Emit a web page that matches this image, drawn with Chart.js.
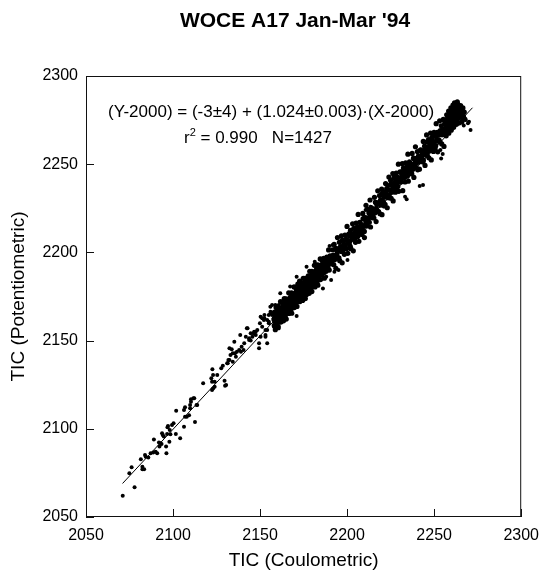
<!DOCTYPE html>
<html><head><meta charset="utf-8">
<script src="https://cdn.jsdelivr.net/npm/chart.js@4/dist/chart.umd.min.js"></script>
<style>html,body{margin:0;padding:0;background:#fff;}canvas{display:block;}</style>
</head><body>
<canvas id="c" width="548" height="575"></canvas>
<script>
const titleText = "WOCE A17 Jan-Mar '94";
const xTitle = "TIC (Coulometric)";
const yTitle = "TIC (Potentiometric)";
const eqLine1 = "(Y-2000) = (-3\u00B14) + (1.024\u00B10.003)\u00B7(X-2000)";
const eqR = "r";
const eqSup = "2";
const eqRest = " = 0.990   N=1427";
const tickValues = [2050, 2100, 2150, 2200, 2250, 2300];
const fitLine = [[2071, 2069], [2272, 2282]];

// sparse lower part (X < 2150)
const lowPts = [[2071.1,2062.1],[2077.9,2066.8],[2074.9,2074.8],[2076.2,2078.2],[2081.5,2082.7],[2082.4,2078.5],[2083.4,2077.0],[2084.3,2084.2],[2085.8,2083.8],[2089.0,2094.0],[2088.6,2086.5],[2090.9,2086.1],[2092.2,2089.9],[2091.9,2092.2],[2093.4,2091.4],[2094.1,2096.5],[2096.2,2086.1],[2096.0,2089.9],[2096.8,2100.9],[2098.1,2099.3],[2098.5,2096.9],[2096.6,2097.1],[2099.4,2102.2],[2101.6,2097.1],[2101.8,2110.3],[2104.1,2094.6],[2106.3,2101.2],[2106.3,2110.7],[2107.9,2106.9],[2109.2,2107.7],[2109.8,2111.7],[2112.6,2103.8],[2112.2,2117.3],[2113.9,2113.5],[2117.3,2125.8],[2122.0,2128.6],[2122.4,2126.7],[2123.0,2130.5],[2123.9,2123.9],[2122.4,2122.0],[2129.6,2127.3],[2129.9,2124.4],[2128.6,2135.8],[2131.4,2137.1],[2132.4,2139.0],[2134.3,2142.8],[2135.2,2149.4],[2133.7,2145.1],[2136.1,2140.9],[2138.6,2153.2],[2139.0,2143.7],[2140.5,2144.7],[2142.4,2157.0],[2143.7,2151.3],[2144.6,2150.0],[2146.2,2154.1],[2147.5,2155.0],[2149.4,2145.6],
[2082.4,2077.0],[2083.9,2085.1],[2087.1,2086.1],[2090.0,2087.0],[2092.8,2091.8],[2093.7,2097.5],[2094.7,2095.6],[2097.1,2101.6],[2097.9,2092.7],[2100.3,2103.1],[2106.9,2106.9],[2109.8,2113.5],[2110.3,2116.7],
[2106.9,2112.2],[2110.3,2115.4],[2111.7,2117.3],[2113.5,2113.5],[2123.0,2122.9],[2122.6,2133.7],[2123.9,2126.7],[2125.4,2130.5],[2127.7,2134.3],[2130.5,2124.8],[2131.1,2137.1],[2131.8,2139.0],[2133.0,2141.8],[2132.4,2145.6],[2134.3,2138.0],[2135.6,2142.8],[2136.7,2143.7],[2138.0,2144.7],[2139.4,2146.5],[2140.9,2148.5],[2141.8,2152.2],[2142.8,2157.0],[2143.7,2150.3],[2144.6,2154.1],[2145.6,2152.2],[2146.6,2155.0],[2147.5,2153.2],[2148.4,2156.0],[2149.4,2148.5],[2149.9,2159.8]];

// transition 2150 - 2163
const midPts = [[2150.3,2152.2],[2153.1,2156.0],[2151.2,2157.9],[2153.1,2152.2],[2152.5,2162.6],[2154.1,2161.7],[2155.0,2164.5],[2156.0,2166.4],[2156.9,2170.2],[2158.2,2162.6],[2159.3,2169.2],[2157.8,2158.8],[2151.2,2162.6],[2152.5,2164.5],[2155.0,2160.7],[2156.9,2164.5],[2155.9,2169.2],[2158.8,2170.2],[2159.7,2159.8],[2160.7,2158.3],[2161.6,2176.8],[2163.5,2173.0],[2150.3,2163.5],[2152.2,2161.7],[2153.1,2153.2],[2154.1,2156.0],[2155.0,2159.8],[2156.0,2165.5],[2157.8,2162.6],[2158.8,2166.4],[2159.7,2157.9],[2160.7,2170.2],[2154.1,2148.5]];

// dense core 2158 - 2192 (wide)
const corePts = [[2158.00,2162.0],[2158.20,2158.3],[2158.30,2166.1],[2158.45,2161.3],[2158.70,2164.2],[2158.75,2156.2],[2158.95,2163.7],[2159.05,2160.4],[2159.20,2168.8],[2159.40,2160.0],[2159.50,2162.9],[2159.70,2166.4],[2159.80,2158.7],[2159.95,2164.4],[2160.20,2162.7],[2160.25,2168.7],[2160.45,2157.3],[2160.55,2166.8],[2160.70,2162.8],[2160.90,2164.8],[2161.00,2160.7],[2161.20,2168.5],[2161.30,2164.5],[2161.45,2166.7],[2161.70,2162.9],[2161.75,2172.1],[2161.95,2160.5],[2162.05,2165.8],[2162.20,2168.3],[2162.40,2164.3],[2162.50,2165.3],
[2162.70,2167.0],[2162.80,2163.2],[2162.95,2171.1],[2163.20,2166.3],[2163.25,2169.0],[2163.45,2161.2],[2163.55,2168.6],[2163.70,2165.4],[2163.90,2173.8],[2164.00,2164.9],[2164.20,2167.9],[2164.30,2171.3],[2164.45,2163.7],[2164.70,2169.4],[2164.75,2167.5],[2164.95,2173.7],[2165.05,2162.2],[2165.20,2171.8],[2165.40,2167.8],[2165.50,2169.7],[2165.70,2165.7],[2165.80,2173.4],[2165.95,2169.5],[2166.20,2171.7],[2166.25,2167.8],[2166.45,2177.1],[2166.55,2165.4],[2166.70,2170.7],[2166.90,2173.3],[2167.00,2169.2],[2167.20,2170.3],
[2167.30,2171.2],[2167.45,2174.6],[2167.70,2167.1],[2167.75,2172.7],[2167.95,2170.9],[2168.05,2177.0],[2168.20,2165.5],[2168.40,2175.1],[2168.50,2171.1],[2168.70,2173.1],[2168.80,2169.0],[2168.95,2176.7],[2169.20,2172.9],[2169.25,2175.0],[2169.45,2171.2],[2169.55,2180.4],[2169.70,2168.7],[2169.90,2174.1],[2170.00,2176.5],[2170.20,2172.6],[2170.30,2173.6],[2170.45,2175.2],[2170.70,2171.6],[2170.75,2179.3],[2170.95,2174.6],[2171.05,2177.3],[2171.20,2169.4],[2171.40,2176.9],[2171.50,2173.6],[2171.70,2182.0],[2171.80,2173.2],
[2171.95,2172.3],[2172.20,2180.2],[2172.25,2176.1],[2172.45,2178.3],[2172.55,2174.4],[2172.70,2183.7],[2172.90,2172.1],[2173.00,2177.4],[2173.20,2179.9],[2173.30,2175.8],[2173.45,2176.9],[2173.70,2178.7],[2173.75,2174.8],[2173.95,2182.7],[2174.05,2177.8],[2174.20,2180.6],[2174.40,2172.8],[2174.50,2180.2],[2174.70,2177.0],[2174.80,2185.3],[2174.95,2176.5],[2175.20,2179.6],[2175.25,2182.9],[2175.45,2175.3],[2175.55,2180.9],[2175.70,2179.1],[2175.90,2185.3],[2176.00,2173.8],[2176.20,2183.4],[2176.30,2179.3],[2176.45,2181.3],
[2176.70,2176.1],[2176.75,2181.4],[2176.95,2183.9],[2177.05,2179.8],[2177.20,2180.9],[2177.40,2182.6],[2177.50,2178.8],[2177.70,2186.7],[2177.80,2181.8],[2177.95,2184.6],[2178.20,2176.8],[2178.25,2184.2],[2178.45,2181.0],[2178.55,2189.3],[2178.70,2180.5],[2178.90,2183.5],[2179.00,2186.9],[2179.20,2179.3],[2179.30,2184.9],[2179.45,2183.1],[2179.70,2189.3],[2179.75,2177.8],[2179.95,2187.4],[2180.05,2183.3],[2180.20,2185.3],[2180.40,2181.3],[2180.50,2189.0],[2180.70,2185.1],[2180.80,2187.2],[2180.95,2183.4],[2181.20,2192.7],
[2181.25,2185.5],[2181.45,2188.3],[2181.55,2180.4],[2181.70,2187.8],[2181.90,2184.7],[2182.00,2193.0],[2182.20,2184.2],[2182.30,2187.1],[2182.45,2190.5],[2182.70,2183.0],[2182.75,2188.6],[2182.95,2186.8],[2183.05,2192.9],[2183.20,2181.4],[2183.40,2191.0],[2183.50,2187.0],[2183.70,2189.0],[2183.80,2184.9],[2183.95,2192.6],[2184.20,2188.8],[2184.25,2190.9],[2184.45,2187.1],[2184.55,2196.3],[2184.70,2184.6],[2184.90,2190.0],[2185.00,2192.4],[2185.20,2188.5],[2185.30,2189.5],[2185.45,2191.1],[2185.70,2187.5],[2185.75,2195.2],
[2186.05,2192.1],[2186.25,2190.3],[2186.55,2196.6],[2186.95,2185.4],[2187.15,2195.0],[2187.45,2191.1],[2187.65,2193.2],[2187.95,2189.3],[2188.35,2197.3],[2188.55,2193.4],[2188.85,2195.7],[2189.05,2191.9],[2189.35,2201.4],[2189.75,2190.0],[2189.95,2195.4],[2190.25,2198.0],[2190.45,2194.0],[2190.75,2195.2],[2191.15,2197.2],[2191.35,2193.5],[2191.65,2201.5]];

// dense core, inner part
const coreInner = [[2162.60,2166.5],[2162.85,2164.6],[2163.00,2169.2],[2163.20,2166.1],[2163.50,2168.4],[2163.60,2164.0],[2163.85,2168.3],[2164.00,2166.5],[2164.20,2171.3],[2164.50,2165.7],[2164.60,2168.2],[2164.85,2170.4],[2165.00,2165.7],[2165.20,2169.5],[2165.50,2168.9],[2165.60,2171.6],[2165.85,2165.9],[2166.00,2171.3],[2166.20,2169.0],[2166.50,2170.4],[2166.60,2168.3],[2166.85,2173.5],[2167.00,2169.4],[2167.20,2172.0],[2167.50,2171.2],
[2167.60,2168.5],[2167.85,2172.3],[2168.00,2171.5],[2168.20,2174.3],[2168.50,2168.8],[2168.60,2174.1],[2168.85,2171.8],[2169.00,2173.1],[2169.20,2171.1],[2169.50,2176.3],[2169.60,2172.1],[2169.85,2174.8],[2170.00,2173.8],[2170.20,2174.6],[2170.50,2172.7],[2170.60,2177.3],[2170.85,2174.2],[2171.00,2176.3],[2171.20,2172.0],[2171.50,2176.4],[2171.60,2174.5],[2171.85,2179.4],[2172.00,2173.7],[2172.20,2176.3],[2172.50,2178.5],
[2172.60,2178.0],[2172.85,2173.8],[2173.00,2178.0],[2173.20,2176.2],[2173.50,2181.2],[2173.60,2175.4],[2173.85,2178.0],[2174.00,2180.1],[2174.20,2175.5],[2174.50,2179.3],[2174.60,2178.5],[2174.85,2181.4],[2175.00,2175.6],[2175.20,2181.1],[2175.50,2178.9],[2175.60,2180.1],[2175.85,2178.1],[2176.00,2183.2],[2176.20,2179.1],[2176.50,2181.8],[2176.60,2180.8],[2176.85,2181.6],[2177.00,2179.6],[2177.20,2184.3],[2177.50,2181.3],
[2177.60,2181.1],[2177.85,2182.5],[2178.00,2180.4],[2178.20,2185.5],[2178.50,2181.6],[2178.60,2184.1],[2178.85,2183.2],[2179.00,2183.9],[2179.20,2181.9],[2179.50,2186.7],[2179.60,2183.5],[2179.85,2185.7],[2180.00,2181.3],[2180.20,2185.7],[2180.50,2184.0],[2180.60,2188.7],[2180.85,2183.0],[2181.00,2185.6],[2181.20,2187.7],[2181.50,2183.2],[2181.60,2186.8],[2181.85,2186.2],[2182.00,2189.0],[2182.20,2183.3],[2182.50,2188.8],
[2182.60,2184.9],[2182.85,2187.6],[2183.00,2189.6],[2183.20,2185.0],[2183.50,2188.9],[2183.60,2188.1],[2183.85,2190.9],[2184.00,2185.2],[2184.20,2190.6],[2184.50,2188.4],[2184.60,2189.6],[2184.85,2187.7],[2185.00,2192.7],[2185.20,2188.7],[2185.50,2191.4],[2185.60,2190.4],[2185.85,2191.1],[2186.00,2189.1],[2186.20,2193.8],[2186.50,2190.8],[2186.60,2192.8],[2186.85,2188.6],[2187.00,2192.9],[2187.20,2191.1],[2187.50,2196.0],[2187.80,2191.8],[2188.10,2194.3],[2188.40,2191.2],[2188.70,2194.3]];

// upper band 2192 - 2256 (wide)
const bandPts = [[2192.00,2198.5],[2192.35,2193.0],[2192.55,2204.6],[2193.00,2197.4],[2193.30,2201.9],[2193.55,2191.0],[2193.95,2201.3],[2194.25,2196.9],[2194.45,2208.4],[2194.85,2196.7],[2195.20,2201.1],[2195.55,2205.7],[2195.75,2195.3],[2196.20,2203.3],[2196.50,2200.6],[2196.75,2209.4],[2197.15,2194.1],[2197.45,2206.9],[2197.65,2201.3],[2198.05,2204.6],[2198.40,2198.9],[2198.75,2209.8],[2198.95,2204.3],[2199.40,2207.6],[2199.70,2202.2],[2199.95,2214.7],[2200.35,2199.5],[2200.65,2206.6],[2200.85,2210.2],[2201.25,2204.8],[2201.60,2206.4],
[2201.95,2212.5],[2202.15,2202.1],[2202.60,2210.1],[2202.90,2207.4],[2203.15,2216.2],[2203.55,2200.9],[2203.85,2213.7],[2204.05,2208.0],[2204.45,2211.4],[2204.80,2205.7],[2205.15,2216.6],[2205.35,2211.1],[2205.80,2214.4],[2206.10,2209.0],[2206.35,2221.5],[2206.75,2206.3],[2207.05,2213.4],[2207.25,2217.0],[2207.65,2211.6],[2208.00,2213.2],[2208.35,2215.8],[2208.55,2210.2],[2209.00,2222.1],[2209.30,2214.7],[2209.55,2219.2],[2209.95,2208.4],[2210.25,2219.6],[2210.45,2215.0],[2210.85,2226.7],[2211.20,2215.0],[2211.55,2219.4],
[2211.75,2224.6],[2212.20,2219.4],[2212.50,2222.5],[2212.75,2217.1],[2213.15,2229.7],[2213.45,2214.4],[2213.65,2221.4],[2214.05,2225.2],[2214.40,2219.7],[2214.75,2221.4],[2214.95,2223.8],[2215.40,2219.5],[2215.70,2231.2],[2215.95,2223.8],[2216.35,2228.4],[2216.65,2217.5],[2216.85,2227.6],[2217.25,2223.2],[2217.60,2234.9],[2217.95,2223.2],[2218.15,2227.4],[2218.60,2232.2],[2218.90,2221.9],[2219.15,2229.6],[2219.55,2227.1],[2219.85,2235.9],[2220.05,2221.4],[2220.45,2234.3],[2220.80,2228.8],[2221.15,2232.1],[2221.35,2226.3],
[2221.80,2227.3],[2222.10,2239.0],[2222.35,2231.5],[2222.75,2236.2],[2223.05,2225.3],[2223.25,2235.4],[2223.65,2231.0],[2224.00,2242.7],[2224.35,2231.0],[2224.55,2235.2],[2225.00,2240.9],[2225.30,2230.7],[2225.55,2238.4],[2225.95,2235.9],[2226.25,2244.7],[2226.45,2229.2],[2226.85,2242.1],[2227.20,2236.6],[2227.55,2239.8],[2227.75,2234.1],[2228.20,2245.0],[2228.50,2239.7],[2228.75,2242.7],[2229.15,2237.4],[2229.45,2250.0],[2229.65,2234.6],[2230.05,2241.8],[2230.40,2245.6],[2230.75,2240.0],[2230.95,2241.6],[2231.40,2244.2],
[2231.70,2250.4],[2231.95,2235.0],[2232.35,2247.9],[2232.65,2242.4],[2232.85,2245.5],[2233.25,2239.9],[2233.60,2250.8],[2233.95,2245.4],[2234.15,2248.4],[2234.60,2243.2],[2234.90,2255.7],[2235.15,2240.4],[2235.55,2247.6],[2235.85,2251.3],[2236.05,2245.7],[2236.45,2247.4],[2236.80,2250.0],[2237.15,2244.5],[2237.35,2256.1],[2237.80,2248.9],[2238.10,2253.4],[2238.35,2242.5],[2238.75,2252.8],[2239.05,2248.3],[2239.25,2259.9],[2239.65,2248.2],[2240.00,2252.5],[2240.35,2257.2],[2240.55,2246.8],[2241.00,2254.8],[2241.30,2252.1],
[2241.55,2247.2],[2241.95,2254.4],[2242.25,2258.1],[2242.45,2252.4],[2242.85,2254.2],[2243.20,2256.7],[2243.55,2251.3],[2243.75,2262.9],[2244.20,2255.7],[2244.50,2260.2],[2244.75,2249.3],[2245.15,2259.6],[2245.45,2255.1],[2245.65,2266.6],[2246.05,2254.9],[2246.40,2259.3],[2246.75,2264.0],[2246.95,2253.6],[2247.40,2261.6],[2247.70,2258.9],[2247.95,2267.7],[2248.35,2252.4],[2248.65,2265.2],[2248.85,2259.5],[2249.25,2262.9],[2249.60,2257.2],[2249.95,2268.1],[2250.15,2262.6],[2250.60,2265.9],[2250.90,2260.5],[2251.15,2273.0],
[2251.55,2263.5],[2251.85,2268.0],[2252.05,2257.0],[2252.45,2267.3],[2252.80,2262.9],[2253.15,2274.6],[2253.35,2262.7],[2253.80,2267.2],[2254.10,2271.8],[2254.35,2261.5],[2254.75,2269.4],[2255.05,2266.7],[2255.25,2275.4],[2255.65,2260.1],[2256.00,2273.0],[2256.35,2267.5]];

// upper band, inner part
const bandInner = [[2192.30,2198.2],[2192.80,2195.8],[2193.50,2202.3],[2194.10,2199.0],[2194.90,2202.0],[2195.30,2196.9],[2195.80,2202.3],[2196.50,2200.6],[2197.10,2206.9],[2197.90,2201.7],[2198.30,2204.1],[2198.80,2206.9],[2199.50,2202.2],[2200.10,2206.7],[2200.90,2206.0],[2201.30,2210.7],[2201.80,2203.4],[2202.50,2210.4],[2203.10,2208.0],[2203.90,2210.3],[2204.30,2207.7],[2204.80,2213.5],[2205.50,2211.4],[2206.10,2213.5],[2206.90,2211.5],
[2207.30,2210.5],[2207.80,2214.8],[2208.50,2214.1],[2209.10,2219.0],[2209.90,2211.9],[2210.30,2219.7],[2210.80,2217.2],[2211.50,2219.3],[2212.10,2217.0],[2212.90,2223.1],[2213.30,2220.6],[2213.80,2222.7],[2214.50,2220.5],[2215.10,2224.4],[2215.90,2222.3],[2216.30,2228.4],[2216.80,2225.1],[2217.50,2228.0],[2218.10,2223.0],[2218.90,2228.8],[2219.30,2226.8],[2219.80,2232.9],[2220.50,2228.7],[2221.10,2231.3],[2221.90,2234.4],
[2222.30,2233.4],[2222.80,2231.5],[2223.50,2237.9],[2224.10,2232.5],[2224.90,2235.3],[2225.30,2239.0],[2225.80,2234.1],[2226.50,2238.6],[2227.10,2237.8],[2227.90,2242.9],[2228.30,2235.4],[2228.80,2242.3],[2229.50,2240.0],[2230.10,2242.1],[2230.90,2239.9],[2231.30,2245.6],[2231.80,2243.3],[2232.50,2245.5],[2233.10,2243.2],[2233.90,2246.3],[2234.30,2243.8],[2234.80,2250.0],[2235.50,2246.9],[2236.10,2249.7],[2236.90,2245.0],
[2237.30,2249.7],[2237.80,2247.2],[2238.50,2253.3],[2239.10,2251.0],[2239.90,2253.3],[2240.30,2250.9],[2240.80,2253.6],[2241.50,2251.4],[2242.10,2257.8],[2242.90,2254.7],[2243.30,2257.3],[2243.80,2252.3],[2244.50,2257.9],[2245.10,2256.2],[2245.90,2262.6],[2246.30,2257.0],[2246.80,2259.6],[2247.50,2262.5],[2248.10,2257.7],[2248.90,2262.4],[2249.30,2261.3],[2249.80,2266.1],[2250.50,2259.0],[2251.10,2265.9],[2251.90,2263.8],[2252.30,2266.4],[2252.80,2263.7],[2253.50,2269.1],[2254.10,2266.7],[2254.90,2269.3]];

// top cluster
const topPts = [[2256.5,2270.5],[2256.5,2273.0],[2256.5,2268.2],[2257.0,2271.6],[2257.0,2274.3],[2257.0,2269.5],[2257.5,2272.8],[2257.5,2270.1],[2257.5,2275.5],[2258.0,2273.6],[2258.0,2271.2],[2258.0,2276.4],[2258.0,2269.0],[2258.5,2274.5],[2258.5,2272.0],[2258.5,2277.1],[2259.0,2275.4],[2259.0,2273.1],[2259.0,2278.2],[2259.0,2270.8],[2259.5,2276.2],[2259.5,2273.9],[2259.5,2279.0],[2260.0,2277.0],[2260.0,2274.6],[2260.0,2279.8],[2260.0,2272.3],[2260.5,2277.9],[2260.5,2275.5],[2260.5,2280.4],[2261.0,2278.5],[2261.0,2276.1],[2261.0,2281.2],[2261.0,2273.7],[2261.5,2279.2],[2261.5,2276.9],[2261.5,2281.8],[2262.0,2279.9],[2262.0,2277.5],[2262.0,2282.4],[2262.0,2275.0],[2262.5,2280.6],[2262.5,2278.3],[2262.5,2276.1],[2263.0,2281.2],[2263.0,2279.0],[2263.0,2277.0],[2263.0,2282.8],[2263.5,2280.2],[2263.5,2278.1],[2263.5,2275.8],[2264.0,2281.6],[2264.0,2279.4],[2264.0,2277.3],[2264.5,2280.5],[2264.5,2278.2],[2264.5,2282.3],[2265.0,2279.3],[2265.0,2281.4],[2265.0,2276.8],[2265.5,2280.2],[2265.5,2278.0],[2266.0,2279.1],[2266.0,2276.4],
[2257.2,2278.0],[2258.3,2280.1],[2259.6,2282.0],[2260.8,2283.5],[2262.2,2284.3],[2263.6,2284.0],[2265.2,2283.2],[2266.5,2281.9],[2267.3,2279.6],[2266.8,2277.2],[2267.6,2275.5],[2265.9,2273.9],[2264.2,2273.4],[2262.8,2272.6],[2261.2,2270.9],[2259.8,2269.3],[2258.4,2267.6],[2256.9,2266.1],[2263.3,2285.4],[2261.7,2284.8]];

// scattered outliers
const outPts = [[2167.3,2180.6],[2168.2,2165.5],[2171.0,2163.9],[2171.0,2186.2],[2176.7,2191.9],[2181.4,2194.7],[2186.1,2179.6],[2188.0,2186.2],[2190.8,2184.4],[2192.7,2189.1],[2195.1,2190.0],[2200.2,2195.7],[2189.9,2203.6],[2191.7,2204.2],[2201.2,2208.9],[2204.9,2212.7],[2210.6,2224.0],[2213.5,2225.9],[2254.0,2253.3],[2254.9,2255.8],[2253.6,2258.0],[2243.6,2238.2],[2241.7,2237.6],[2233.3,2231.6],[2234.2,2230.1],[2270.0,2274.1],[2270.9,2269.4],[2269.4,2273.2],[2268.1,2275.1],[2267.0,2272.0]];

const toXY = arr => arr.map(p => ({x: p[0], y: p[1]}));
const sparseSet = [].concat(lowPts, midPts, outPts);
const denseSet = [].concat(corePts, coreInner, bandPts, bandInner, topPts);

const FONT = '"Liberation Sans", Arial, Helvetica, sans-serif';

const decor = {
  id: 'decor',
  afterDraw(chart) {
    const {ctx, chartArea: a, scales: {x, y}} = chart;
    ctx.save();
    ctx.strokeStyle = '#111';
    ctx.lineWidth = 1;
    ctx.strokeRect(a.left + 0.5, a.top + 0.5, a.right - a.left - 1, a.bottom - a.top - 1);
    ctx.beginPath();
    x.ticks.forEach(t => {
      const px = Math.round(x.getPixelForValue(t.value)) + 0.5;
      ctx.moveTo(px, a.bottom); ctx.lineTo(px, a.bottom - 8);
    });
    y.ticks.forEach(t => {
      const py = Math.round(y.getPixelForValue(t.value)) + 0.5;
      ctx.moveTo(a.left, py); ctx.lineTo(a.left + 8, py);
    });
    ctx.stroke();

    ctx.fillStyle = '#000';
    ctx.font = 'bold 21px ' + FONT;
    ctx.textAlign = 'center';
    ctx.textBaseline = 'middle';
    ctx.fillText(titleText, 295, 21);

    ctx.font = '17px ' + FONT;
    ctx.textAlign = 'left';
    ctx.textBaseline = 'alphabetic';
    ctx.fillText(eqLine1, 108, 117);
    let cx = 184;
    ctx.fillText(eqR, cx, 143);
    cx += ctx.measureText(eqR).width;
    ctx.font = '11px ' + FONT;
    ctx.fillText(eqSup, cx, 136);
    cx += ctx.measureText(eqSup).width;
    ctx.font = '17px ' + FONT;
    ctx.fillText(eqRest, cx, 143);
    ctx.restore();
  }
};

const dotStyle = r => ({
  pointRadius: r,
  pointBorderWidth: 0,
  pointBackgroundColor: '#000',
  pointBorderColor: '#000',
  backgroundColor: '#000',
  borderColor: '#000'
});

new Chart(document.getElementById('c'), {
  type: 'scatter',
  data: {
    datasets: [
      {
        data: toXY(fitLine),
        showLine: true,
        borderColor: '#000',
        borderWidth: 1,
        pointRadius: 0,
        fill: false
      },
      Object.assign({data: toXY(sparseSet)}, dotStyle(2)),
      Object.assign({data: toXY(denseSet)}, dotStyle(2.6))
    ]
  },
  options: {
    responsive: false,
    animation: false,
    events: [],
    devicePixelRatio: 1,
    layout: {padding: {top: 76, right: 20, left: 0, bottom: 0}},
    plugins: {legend: {display: false}, tooltip: {enabled: false}},
    scales: {
      x: {
        type: 'linear', min: 2050, max: 2300,
        afterBuildTicks: s => { s.ticks = tickValues.map(v => ({value: v})); },
        afterFit: s => { s.height = 58; },
        grid: {display: false, drawTicks: false},
        border: {display: false},
        ticks: {color: '#000', font: {family: FONT, size: 16}, padding: 9, callback: v => String(v), maxRotation: 0, autoSkip: false},
        title: {display: true, text: xTitle, color: '#000', font: {family: FONT, size: 19}, padding: {top: 0, bottom: 3}}
      },
      y: {
        type: 'linear', min: 2050, max: 2300,
        afterBuildTicks: s => { s.ticks = tickValues.map(v => ({value: v})); },
        afterFit: s => { s.width = 86; },
        grid: {display: false, drawTicks: false},
        border: {display: false},
        ticks: {color: '#000', font: {family: FONT, size: 16}, padding: 8, callback: v => String(v), autoSkip: false},
        title: {display: true, text: yTitle, color: '#000', font: {family: FONT, size: 19}, padding: {top: 7, bottom: 0}}
      }
    }
  },
  plugins: [decor]
});
</script>
</body></html>
